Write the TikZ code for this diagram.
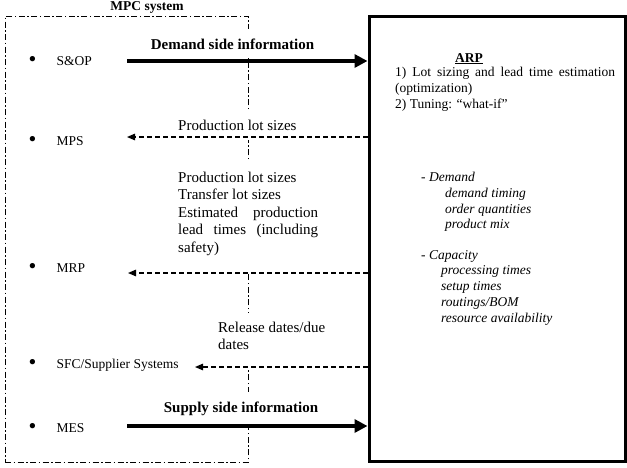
\documentclass[tikz,border=0pt]{standalone}
\usepackage{fontspec}
\usepackage{graphicx}
\setmainfont{Liberation Serif}
\usetikzlibrary{arrows.meta}
\newcommand{\bigf}{\fontsize{15}{17.5}\selectfont}
\newcommand{\smf}{\fontsize{13.5}{15.8}\selectfont}
\newcommand{\mybul}{\makebox[28pt][l]{\raisebox{-1.6pt}{\scalebox{1.65}{\textbullet}}}}
\begin{document}
\begin{tikzpicture}[x=1pt,y=-1pt,
  mpcbox/.style={draw, line width=1pt, dash pattern=on 6pt off 2.5pt on 1.5pt off 2.5pt, inner sep=0pt, minimum width=243pt, minimum height=446pt},
  arpbox/.style={draw, line width=3pt, inner sep=0pt, minimum width=256pt, minimum height=445pt},
  item/.style={anchor=base west, inner sep=0pt, font=\smf},
  lab/.style={fill=white, inner xsep=1pt, inner ysep=9pt, font=\bigf},
  thickarrow/.style={line width=4pt, -{Triangle[length=13pt,width=13pt]}},
  dasharrow/.style={line width=1.2pt, dash pattern=on 5pt off 3pt, -{Triangle[length=8pt,width=6.5pt]}},
  arptext/.style={anchor=north west, inner sep=0pt, align=left, font=\smf},
]
\useasboundingbox (0,0) rectangle (627,467);
\fill[white] (0,0) rectangle (627,467);

% MPC system box
\node[mpcbox] (mpc) at (126.5,239) {};
\node[anchor=base, inner sep=0pt, font=\smf\bfseries] (mpctitle) at (147,10.5) {MPC system};

% items
\node[item] (sop) at (28.5,65) {\mybul S\&OP};
\node[item] (mps) at (28.5,145) {\mybul MPS};
\node[item] (mrp) at (28.5,272) {\mybul MRP};
\node[item] (sfc) at (28.5,368) {\mybul SFC/Supplier Systems};
\node[item] (mes) at (28.5,432) {\mybul MES};

% labels (white text boxes over the MPC frame)
\node[lab, anchor=base, font=\bigf\bfseries] (dsi) at (232.5,49) {Demand side information};
\node[lab, anchor=base west, inner ysep=10pt] (pls) at (177,130) {Production lot sizes};
\node[lab, anchor=north west, align=left, inner ysep=1pt] (mrpinfo) at (177,161) {\rule{0pt}{20pt}Production lot sizes\\Transfer lot sizes\\\hbox to 140pt{Estimated\hfill production}\\\hbox to 140pt{lead\hfill times\hfill (including}\\safety)\rule[-19pt]{0pt}{19pt}};
\node[lab, anchor=north west, align=left, inner ysep=1pt] (rel) at (217,313) {\rule{0pt}{18pt}Release dates/due\\dates\rule[-17pt]{0pt}{17pt}};
\node[lab, anchor=base, font=\bigf\bfseries] (ssi) at (241,412) {Supply side information};

% ARP box
\node[arpbox] (arp) at (497,238.5) {};

% connector end points
\coordinate (e1) at (127,61);
\coordinate (e2) at (127,137);
\coordinate (e3) at (128,273);
\coordinate (e4) at (195,367);
\coordinate (e5) at (127,426);

\draw[thickarrow] (e1) -- (e1 -| arp.west);
\draw[dasharrow] (e2 -| arp.west) -- (e2);
\draw[dasharrow] (e3 -| arp.west) -- (e3);
\draw[dasharrow] (e4 -| arp.west) -- (e4);
\draw[thickarrow] (e5) -- (e5 -| arp.west);

% ARP contents
\node[anchor=base, inner sep=0pt, font=\smf\bfseries] (arptitle) at (469,62) {\underline{ARP}};
\node[arptext] (arplist) at (395,67) {\hbox to 220pt{1)\hfill Lot\hfill sizing\hfill and\hfill lead\hfill time\hfill estimation}\\(optimization)\\2) Tuning: “what-if”};
\node[arptext, font=\smf\itshape] (demand) at (421,172) {- Demand\\\hspace*{24pt}demand timing\\\hspace*{24pt}order quantities\\\hspace*{24pt}product mix};
\node[arptext, font=\smf\itshape] (capacity) at (421,250) {- Capacity\\\hspace*{20pt}processing times\\\hspace*{20pt}setup times\\\hspace*{20pt}routings/BOM\\\hspace*{20pt}resource availability};
\end{tikzpicture}
\end{document}
